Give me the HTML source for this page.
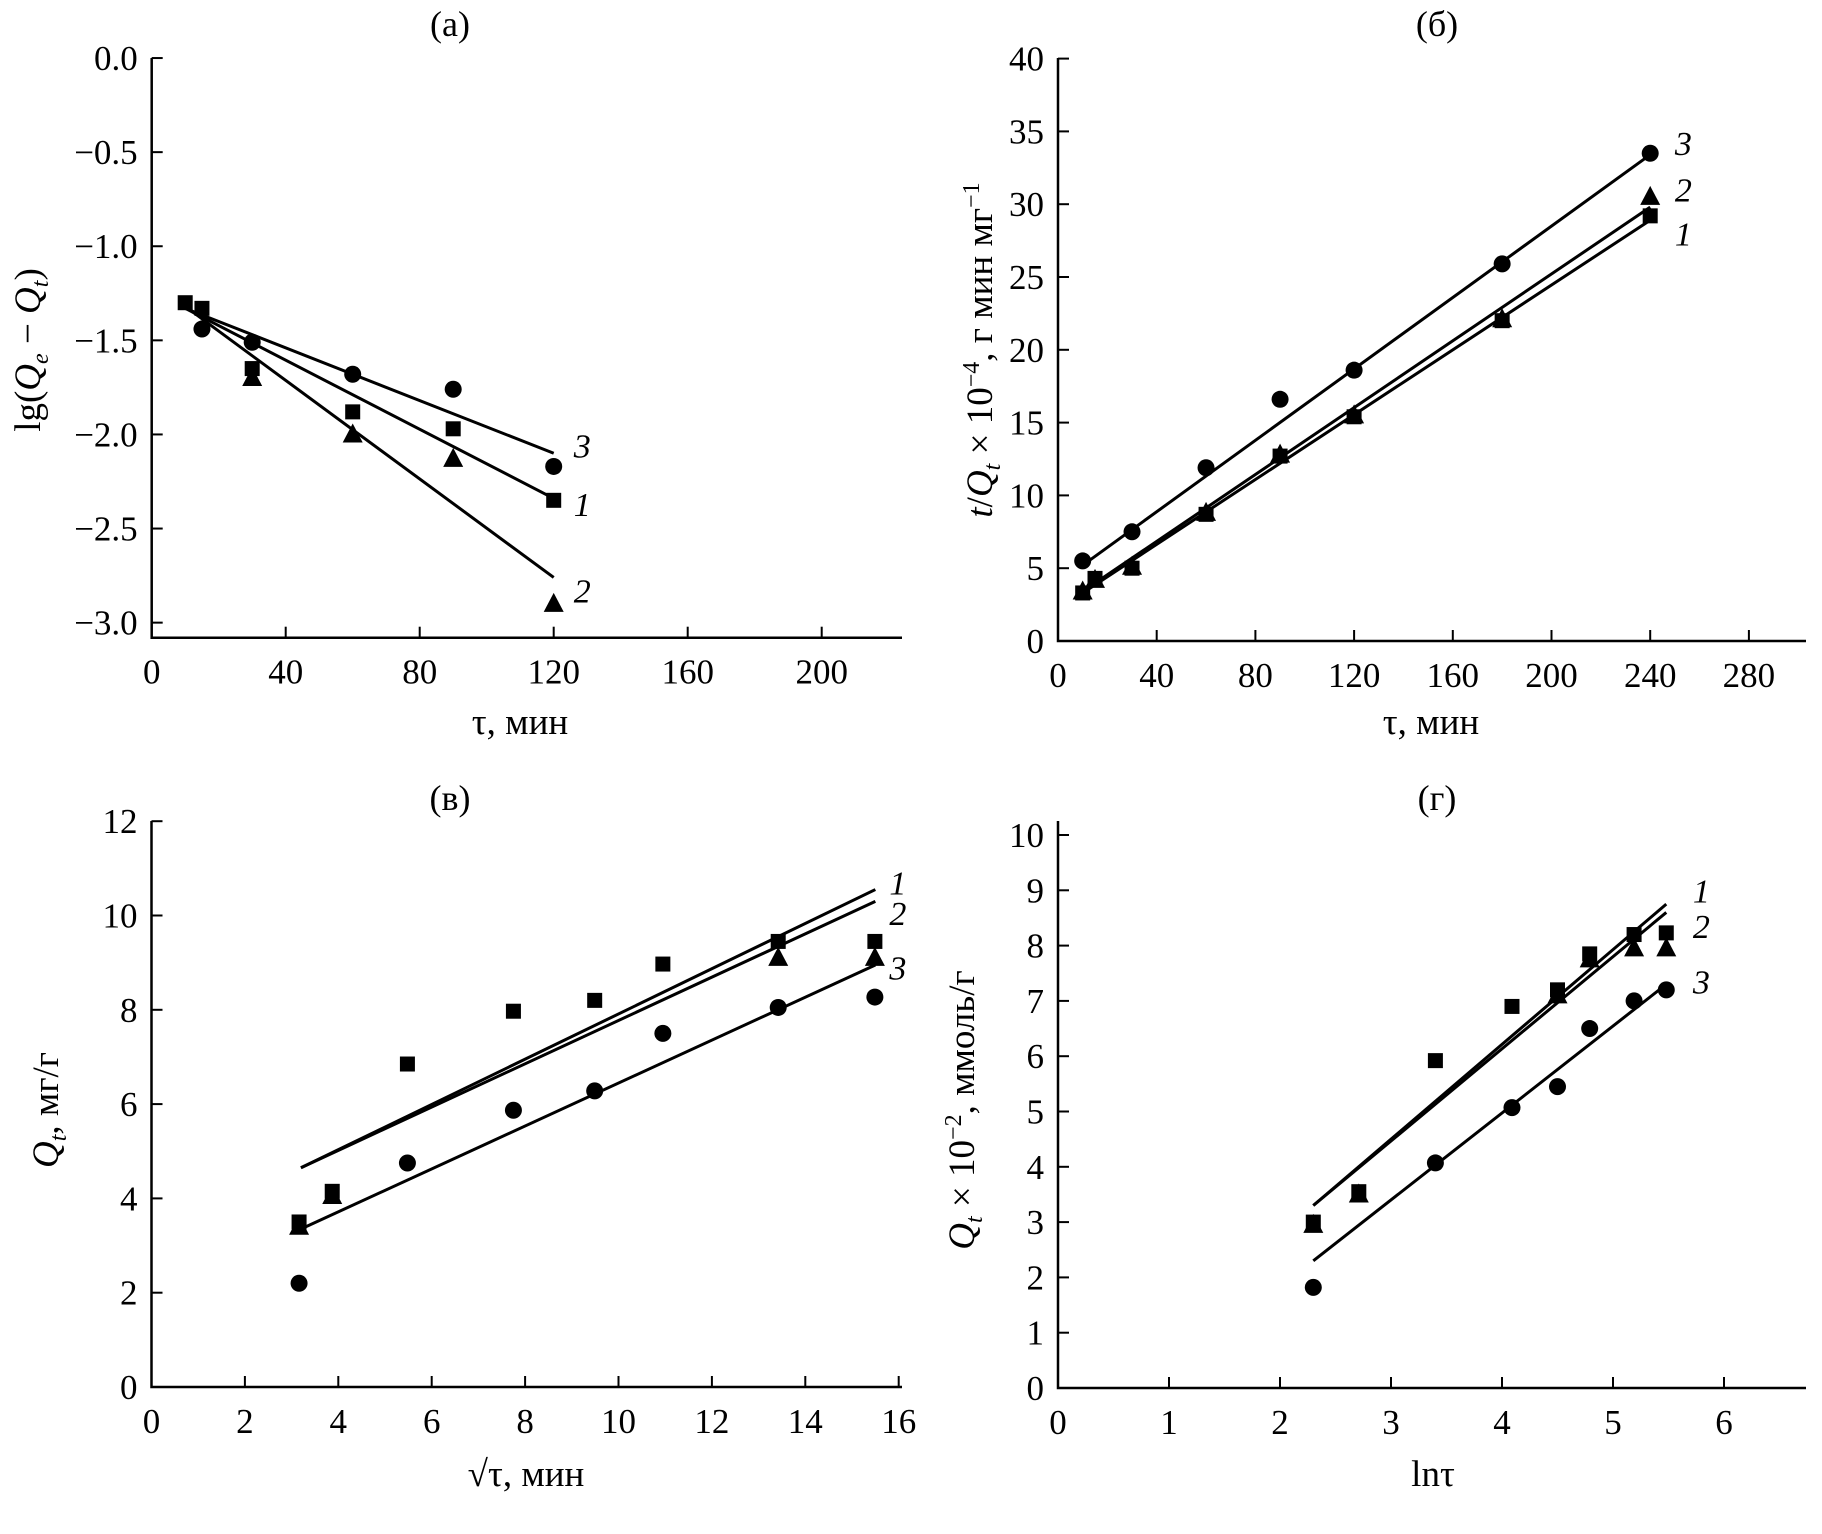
<!DOCTYPE html>
<html><head><meta charset="utf-8"><style>
html,body{margin:0;padding:0;background:#fff;}
svg{display:block;font-family:"Liberation Serif","DejaVu Serif",serif;}
</style></head><body>
<svg id="fig" width="1822" height="1534" viewBox="0 0 1822 1534" xmlns="http://www.w3.org/2000/svg"></svg>
<script>
// ---- Panel (a) data ----
const aX1=[10,15,30,60,90,120], aY1=[-1.30,-1.33,-1.65,-1.88,-1.97,-2.35];
const aX2=[30,60,90,120], aY2=[-1.70,-2.00,-2.13,-2.90];
const aX3=[15,30,60,90,120], aY3=[-1.44,-1.51,-1.68,-1.76,-2.17];
const aFit1=[[10,-1.33],[120,-2.34]], aFit2=[[10,-1.32],[120,-2.76]], aFit3=[[10,-1.33],[120,-2.10]];
const aXTicks=[0,40,80,120,160,200], aYTicks=[0,-0.5,-1,-1.5,-2,-2.5,-3];
const aYLabels=["0.0","\u22120.5","\u22121.0","\u22121.5","\u22122.0","\u22122.5","\u22123.0"];
// ---- Panel (b) data ----
const bX=[10,15,30,60,90,120,180,240];
const bY1=[3.3,4.3,5.0,8.7,12.7,15.4,22.0,29.2];
const bY2=[3.4,4.2,5.1,8.8,12.8,15.5,22.1,30.5];
const bX3=[10,30,60,90,120,180,240], bY3=[5.5,7.5,11.9,16.6,18.6,25.9,33.5];
const bFit1=[[10,3.3],[240,28.9]], bFit2=[[10,3.4],[240,29.8]], bFit3=[[10,5.2],[240,33.4]];
const bXTicks=[0,40,80,120,160,200,240,280], bYTicks=[0,5,10,15,20,25,30,35,40];
// ---- Panel (c) data ----
const cX=[3.16,3.87,5.48,7.75,9.49,10.95,13.42,15.49];
const cY1=[3.5,4.15,6.85,7.97,8.2,8.97,9.45,9.45];
const cX2=[3.16,3.87,13.42,15.49], cY2=[3.4,4.05,9.1,9.1];
const cX3=[3.16,5.48,7.75,9.49,10.95,13.42,15.49], cY3=[2.2,4.75,5.87,6.28,7.5,8.05,8.27];
const cFit1=[[3.2,4.65],[15.5,10.55]], cFit2=[[3.2,4.65],[15.5,10.3]], cFit3=[[3.2,3.35],[15.5,8.95]];
const cXTicks=[0,2,4,6,8,10,12,14,16], cYTicks=[0,2,4,6,8,10,12];
// ---- Panel (d) data ----
const dX=[2.3,2.71,3.4,4.09,4.5,4.79,5.19,5.48];
const dY1=[3.0,3.55,5.92,6.9,7.2,7.85,8.2,8.23];
const dX2=[2.3,2.71,4.5,4.79,5.19,5.48], dY2=[2.95,3.5,7.1,7.75,7.95,7.95];
const dX3=[2.3,3.4,4.09,4.5,4.79,5.19,5.48], dY3=[1.82,4.07,5.07,5.45,6.5,7.0,7.2];
const dFit1=[[2.3,3.3],[5.48,8.75]], dFit2=[[2.3,3.3],[5.48,8.6]], dFit3=[[2.3,2.3],[5.48,7.3]];
const dXTicks=[0,1,2,3,4,5,6], dYTicks=[0,1,2,3,4,5,6,7,8,9,10];

const NS="http://www.w3.org/2000/svg";
const svg=document.getElementById('fig');
function mk(tag,attrs,parent){const e=document.createElementNS(NS,tag);for(const k in attrs)e.setAttribute(k,attrs[k]);(parent||svg).appendChild(e);return e;}
function txt(s,x,y,attrs,parent){const t=mk('text',Object.assign({x:x,y:y},attrs),parent);t.textContent=s;return t;}

function panel(name,cfg){
  const g=mk('g',{});
  
  
  const sx=v=>cfg.x0+(v-cfg.xmin)*cfg.kx;
  const sy=v=>cfg.y0-(v-cfg.ymin)*cfg.ky;
  const ax=mk('path',{d:`M${cfg.x0},${cfg.ytop}V${cfg.y0}H${cfg.xend}`,stroke:'#000','stroke-width':2.5,fill:'none'},g);
  
  
  cfg.xt.forEach((v,i)=>{
    if(v!==cfg.xmin){const tk=mk('line',{x1:sx(v),x2:sx(v),y1:cfg.y0,y2:cfg.y0-11,stroke:'#000','stroke-width':2},g);
    
    }
    const l=txt(String(v),sx(v),cfg.y0+46,{'font-size':35,'text-anchor':'middle'},g);
    
    
  });
  cfg.yt.forEach((v,i)=>{
    const tk=mk('line',{x1:cfg.x0,x2:cfg.x0+11,y1:sy(v),y2:sy(v),stroke:'#000','stroke-width':2},g);
    
    
    const l=txt(cfg.yl?cfg.yl[i]:String(v),cfg.x0-14,sy(v)+12,{'font-size':35,'text-anchor':'end'},g);
    
    
  });
  cfg.fits.forEach((f,i)=>{
    const ln=mk('line',{x1:sx(f[0][0]),y1:sy(f[0][1]),x2:sx(f[1][0]),y2:sy(f[1][1]),stroke:'#000','stroke-width':3},g);
    
    
  });
  cfg.series.forEach(s=>{
    s.x.forEach((xv,i)=>{
      const X=sx(xv),Y=sy(s.y[i]);let m;
      if(s.shape==='sq') m=mk('rect',{x:X-7.5,y:Y-7.5,width:15,height:15,fill:'#000'},g);
      else if(s.shape==='tri') m=mk('polygon',{points:`${X},${Y-11} ${X-10},${Y+8} ${X+10},${Y+8}`,fill:'#000'},g);
      else m=mk('circle',{cx:X,cy:Y,r:8.5,fill:'#000'},g);
      
      
    });
  });
  cfg.labels.forEach(l=>{
    const t=txt(l[0],sx(l[1]),sy(l[2])+12,{'font-size':34,'font-style':'italic'},g);
    
    
  });
  const ti=txt(cfg.title,cfg.tx,cfg.ty,{'font-size':36,'text-anchor':'middle'},g);
  
  
  const xl=txt(cfg.xlabel,cfg.xlx,cfg.xly,{'font-size':37,'text-anchor':'middle'},g);
  
  
  const yl=mk('text',{x:0,y:0,'font-size':37,'text-anchor':'middle',transform:`translate(${cfg.ylx},${cfg.yly}) rotate(-90)`},g);
  yl.innerHTML=cfg.ylabel;
  
  
}

panel('panel-a',{x0:151.7,y0:637.7,xend:902,ytop:58,xmin:0,ymin:-3.08,kx:134/40,ky:94.1/0.5,
  xt:aXTicks,yt:aYTicks,yl:aYLabels,fits:[aFit1,aFit2,aFit3],
  series:[{x:aX2,y:aY2,shape:'tri',name:'point-series-2'},{x:aX1,y:aY1,shape:'sq',name:'point-series-1'},{x:aX3,y:aY3,shape:'ci',name:'point-series-3'}],
  labels:[['3',126,-2.06],['1',126,-2.37],['2',126,-2.83]],
  title:'(а)',tx:450,ty:36,xlabel:'τ, мин',xlx:520,xly:734,ylx:40,yly:350,
  ylabel:'lg(<tspan font-style="italic">Q</tspan><tspan font-style="italic" font-size="24" dy="8">e</tspan><tspan dy="-8"> − </tspan><tspan font-style="italic">Q</tspan><tspan font-style="italic" font-size="24" dy="8">t</tspan><tspan dy="-8">)</tspan>'});

panel('panel-b',{x0:1058,y0:641,xend:1806,ytop:58,xmin:0,ymin:0,kx:98.7/40,ky:72.8/5,
  xt:bXTicks,yt:bYTicks,fits:[bFit1,bFit2,bFit3],
  series:[{x:bX,y:bY2,shape:'tri',name:'point-series-2'},{x:bX,y:bY1,shape:'sq',name:'point-series-1'},{x:bX3,y:bY3,shape:'ci',name:'point-series-3'}],
  labels:[['3',250,34.2],['2',250,31.0],['1',250,28.0]],
  title:'(б)',tx:1437,ty:36,xlabel:'τ, мин',xlx:1431,xly:734,ylx:992,yly:350,
  ylabel:'<tspan font-style="italic">t</tspan>/<tspan font-style="italic">Q</tspan><tspan font-style="italic" font-size="24" dy="8">t</tspan><tspan dy="-8"> × 10</tspan><tspan font-size="24" dy="-13">−4</tspan><tspan dy="13">, г мин мг</tspan><tspan font-size="24" dy="-13">−1</tspan>'});

panel('panel-c',{x0:151.5,y0:1387,xend:902,ytop:821,xmin:0,ymin:0,kx:93.4/2,ky:94.3/2,
  xt:cXTicks,yt:cYTicks,fits:[cFit1,cFit2,cFit3],
  series:[{x:cX,y:cY1,shape:'sq',name:'point-series-1'},{x:cX2,y:cY2,shape:'tri',name:'point-series-2'},{x:cX3,y:cY3,shape:'ci',name:'point-series-3'}],
  labels:[['1',15.8,10.7],['2',15.8,10.05],['3',15.8,8.9]],
  title:'(в)',tx:450,ty:810,xlabel:'√τ, мин',xlx:526,xly:1486,ylx:58,yly:1110,
  ylabel:'<tspan font-style="italic">Q</tspan><tspan font-style="italic" font-size="24" dy="8">t</tspan><tspan dy="-8">, мг/г</tspan>'});

panel('panel-d',{x0:1058,y0:1388,xend:1806,ytop:821,xmin:0,ymin:0,kx:111,ky:55.3,
  xt:dXTicks,yt:dYTicks,fits:[dFit1,dFit2,dFit3],
  series:[{x:dX,y:dY1,shape:'sq',name:'point-series-1'},{x:dX2,y:dY2,shape:'tri',name:'point-series-2'},{x:dX3,y:dY3,shape:'ci',name:'point-series-3'}],
  labels:[['1',5.72,9.0],['2',5.72,8.35],['3',5.72,7.35]],
  title:'(г)',tx:1437,ty:810,xlabel:'lnτ',xlx:1433,xly:1486,ylx:974,yly:1110,
  ylabel:'<tspan font-style="italic">Q</tspan><tspan font-style="italic" font-size="24" dy="8">t</tspan><tspan dy="-8"> × 10</tspan><tspan font-size="24" dy="-13">−2</tspan><tspan dy="13">, ммоль/г</tspan>'});
</script>
</body></html>
